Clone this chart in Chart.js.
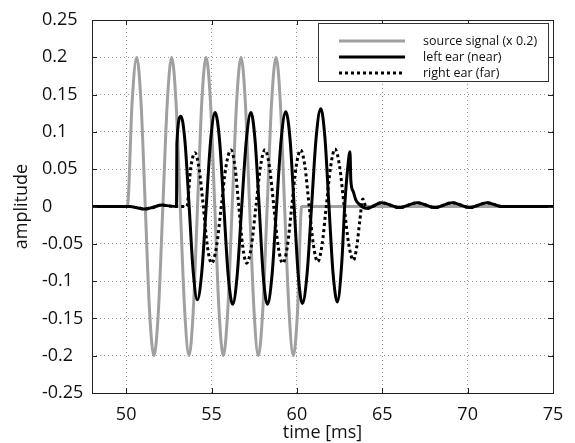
<!DOCTYPE html>
<html>
<head>
<meta charset="utf-8">
<script src="https://cdn.jsdelivr.net/npm/chart.js@4.4.1/dist/chart.umd.min.js"></script>
<style>
  html, body { margin: 0; padding: 0; background: #fff; }
</style>
</head>
<body>
<canvas id="earChart" width="575" height="443"></canvas>
<script>
// values (time in ms, amplitude)
const xTicks = [50, 55, 60, 65, 70, 75];
const yTicks = [-0.25, -0.2, -0.15, -0.1, -0.05, 0, 0.05, 0.1, 0.15, 0.2, 0.25];

const sourceTime = [48, 50.07,
  50.35, 50.62, 50.87, 51.12, 51.37, 51.63, 51.89, 52.15,
  52.41, 52.67, 52.92, 53.17, 53.43, 53.68, 53.93, 54.18,
  54.43, 54.68, 54.94, 55.19, 55.44, 55.69, 55.95, 56.21,
  56.47, 56.73, 56.98, 57.23, 57.49, 57.74, 58.0, 58.26,
  58.52, 58.78, 59.03, 59.28, 59.54, 59.79, 60.04, 60.28, 75];
const sourceAmp = [0, 0,
  0.14, 0.2, 0.14, 0, -0.14, -0.2, -0.14, 0,
  0.14, 0.2, 0.14, 0, -0.14, -0.2, -0.14, 0,
  0.14, 0.2, 0.14, 0, -0.14, -0.2, -0.14, 0,
  0.14, 0.2, 0.14, 0, -0.14, -0.2, -0.14, 0,
  0.14, 0.2, 0.14, 0, -0.14, -0.2, -0.14, 0, 0];

const leftTime = [48, 50.2, 50.7, 51.1, 51.6, 52.08, 52.6, 52.95, 52.97,
  53.21, 53.45, 53.69, 53.93, 54.17, 54.43, 54.69, 54.95, 55.21,
  55.47, 55.72, 55.98, 56.24, 56.5, 56.77, 57.04, 57.31,
  57.55, 57.79, 58.03, 58.27, 58.54, 58.81, 59.08, 59.35,
  59.6, 59.84, 60.08, 60.32, 60.59, 60.86, 61.13, 61.40,
  61.64, 61.88, 62.12, 62.37, 62.63, 62.8, 62.97, 63.11,
  63.16, 63.3, 63.45, 63.7, 64.08, 64.97, 66.0, 67.05,
  68.09, 69.1, 70.12, 71.14, 72.0, 75];
const leftAmp = [0, 0, -0.002, -0.0035, -0.001, 0.002, 0.0005, 0, 0.084,
  0.121, 0.086, 0, -0.088, -0.125, -0.088, 0, 0.089, 0.126,
  0.089, 0, -0.093, -0.131, -0.093, 0, 0.089, 0.126,
  0.089, 0, -0.093, -0.131, -0.093, 0, 0.09, 0.127,
  0.09, 0, -0.092, -0.130, -0.092, 0, 0.093, 0.131,
  0.093, 0, -0.09, -0.128, -0.075, 0, 0.05, 0.0735,
  0.035, 0.02, 0.009, 0.002, -0.0025, 0.005, -0.0015, 0.005,
  -0.0015, 0.005, -0.0015, 0.005, 0, 0];

const rightTime = [48, 50.2, 50.7, 51.1, 51.6, 52.08, 52.6, 53.55,
  53.79, 54.03, 54.27, 54.52, 54.76, 55.01, 55.29, 55.57,
  55.85, 56.14, 56.37, 56.6, 56.83, 57.06, 57.33, 57.6,
  57.87, 58.13, 58.39, 58.65, 58.91, 59.17, 59.44, 59.7,
  59.96, 60.22, 60.47, 60.72, 60.97, 61.22, 61.47, 61.72,
  61.98, 62.23, 62.5, 62.77, 63.04, 63.31, 63.5, 63.68,
  63.86, 64.08, 64.97, 66.0, 67.05, 68.09, 69.1, 70.12,
  71.14, 72.0, 75];
const rightAmp = [0, 0, -0.002, -0.0035, -0.001, 0.002, 0.0005, 0,
  0.053, 0.072, 0.051, 0, -0.054, -0.076, -0.054, 0,
  0.054, 0.0757, 0.054, 0, -0.054, -0.076, -0.054, 0,
  0.054, 0.076, 0.054, 0, -0.054, -0.076, -0.054, 0,
  0.054, 0.0757, 0.054, 0, -0.052, -0.074, -0.052, 0,
  0.054, 0.077, 0.054, 0, -0.051, -0.072, -0.055, -0.02,
  0.01, -0.0025, 0.005, -0.0015, 0.005, -0.0015, 0.005, -0.0015,
  0.005, 0, 0];

const seriesNames = ['source signal (x 0.2)', 'left ear (near)', 'right ear (far)'];

const toPoints = (xs, ys) => xs.map((x, i) => ({ x: x, y: ys[i] }));

const FONT = '"Open Sans", "DejaVu Sans", sans-serif';
const TEXT = '#111';

// frame with inward tick marks on all four sides, plus the boxed legend
const frameLegend = {
  id: 'frameLegend',
  afterDraw(chart) {
    const ctx = chart.ctx;
    const a = chart.chartArea;
    const xs = chart.scales.x, ys = chart.scales.y;
    ctx.save();
    ctx.strokeStyle = '#222';
    ctx.lineWidth = 1;
    ctx.strokeRect(Math.round(a.left) + 0.5, Math.round(a.top) + 0.5,
      Math.round(a.right - a.left), Math.round(a.bottom - a.top));
    ctx.beginPath();
    xTicks.forEach(v => {
      const px = Math.round(xs.getPixelForValue(v)) + 0.5;
      ctx.moveTo(px, a.bottom); ctx.lineTo(px, a.bottom - 5);
      ctx.moveTo(px, a.top); ctx.lineTo(px, a.top + 5);
    });
    yTicks.forEach(v => {
      const py = Math.round(ys.getPixelForValue(v)) + 0.5;
      ctx.moveTo(a.left, py); ctx.lineTo(a.left + 5, py);
      ctx.moveTo(a.right, py); ctx.lineTo(a.right - 5, py);
    });
    ctx.stroke();

    // legend box
    const bx = 318.5, by = 23.5, bw = 230, bh = 58;
    ctx.fillStyle = '#fff';
    ctx.fillRect(bx, by, bw, bh);
    ctx.strokeStyle = '#333';
    ctx.strokeRect(bx, by, bw, bh);
    const rowY = [41, 57, 73];
    chart.data.datasets.forEach((ds, i) => {
      ctx.save();
      ctx.strokeStyle = ds.borderColor;
      ctx.lineWidth = ds.borderWidth;
      ctx.setLineDash(ds.borderDash || []);
      ctx.beginPath();
      ctx.moveTo(339, rowY[i]);
      ctx.lineTo(405, rowY[i]);
      ctx.stroke();
      ctx.restore();
      ctx.fillStyle = TEXT;
      ctx.font = '12.5px ' + FONT;
      ctx.textBaseline = 'middle';
      ctx.textAlign = 'left';
      ctx.fillText(ds.label, 423, rowY[i]);
    });
    ctx.restore();
  }
};

new Chart(document.getElementById('earChart').getContext('2d'), {
  type: 'line',
  data: {
    datasets: [
      {
        label: seriesNames[0],
        data: toPoints(sourceTime, sourceAmp),
        borderColor: '#a0a0a0',
        borderWidth: 3,
        order: 3
      },
      {
        label: seriesNames[1],
        data: toPoints(leftTime, leftAmp),
        borderColor: '#000',
        borderWidth: 3,
        order: 1
      },
      {
        label: seriesNames[2],
        data: toPoints(rightTime, rightAmp),
        borderColor: '#000',
        borderWidth: 3,
        borderDash: [3, 3],
        order: 2
      }
    ]
  },
  options: {
    responsive: false,
    animation: false,
    events: [],
    layout: { padding: { left: 42, top: 20, right: 22, bottom: 0 } },
    elements: {
      point: { radius: 0 },
      line: { cubicInterpolationMode: 'monotone', fill: false, borderCapStyle: 'butt' }
    },
    plugins: {
      legend: { display: false },
      tooltip: { enabled: false }
    },
    scales: {
      x: {
        type: 'linear',
        min: 48,
        max: 75,
        afterBuildTicks: s => { s.ticks = xTicks.map(v => ({ value: v })); },
        afterFit: s => { s.height = 50; },
        grid: { color: '#9a9a9a', drawTicks: false },
        border: { display: false, dash: [1, 3] },
        ticks: { color: TEXT, font: { family: FONT, size: 18 }, padding: 11, maxRotation: 0 },
        title: { display: true, text: 'time [ms]', color: TEXT, font: { family: FONT, size: 18 }, padding: { top: 0, bottom: -1 } }
      },
      y: {
        min: -0.25,
        max: 0.25,
        afterBuildTicks: s => { s.ticks = yTicks.map(v => ({ value: v })); },
        afterFit: s => { s.width = 50; },
        grid: { color: '#9a9a9a', drawTicks: false },
        border: { display: false, dash: [1, 3] },
        ticks: {
          color: TEXT, font: { family: FONT, size: 18 }, crossAlign: 'far',
          callback: v => String(Math.round(v * 100) / 100)
        },
        title: { display: true, text: 'amplitude', color: TEXT, font: { family: FONT, size: 18 }, padding: { top: -31, bottom: 0 } }
      }
    }
  },
  plugins: [frameLegend]
});
</script>
</body>
</html>
